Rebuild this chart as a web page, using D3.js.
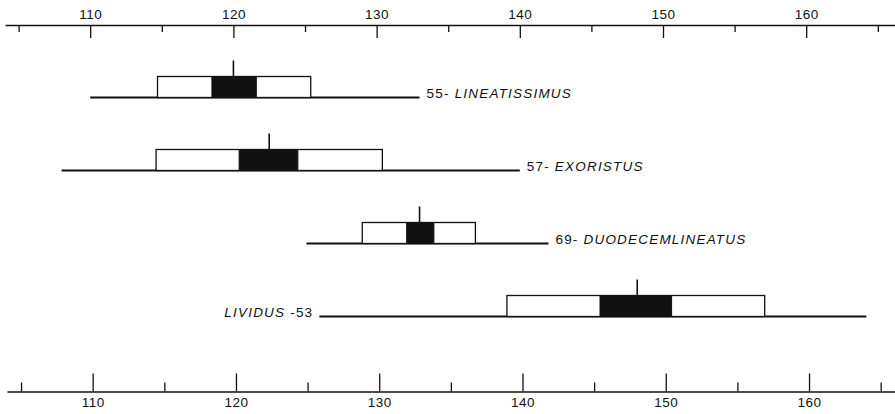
<!DOCTYPE html>
<html>
<head>
<meta charset="utf-8">
<script src="https://cdn.jsdelivr.net/npm/d3@7"></script>
<style>
  html, body { margin: 0; padding: 0; background: #fff; }
  svg { display: block; }
  text { font-family: "Liberation Sans", Arial, sans-serif; fill: #111; }
</style>
</head>
<body>
<svg id="chart" width="895" height="414"></svg>
<script>
// ---- data ----
const categories  = ["LINEATISSIMUS", "EXORISTUS", "DUODECEMLINEATUS", "LIVIDUS"];
const sampleSizes = [55, 57, 69, 53];
const rangeMin    = [110.0, 108.0, 125.1, 126.0];
const rangeMax    = [133.0, 140.0, 142.0, 164.2];
const sdLow       = [114.7, 114.6, 129.0, 139.1];
const sdHigh      = [125.4, 130.4, 136.9, 157.1];
const seLow       = [118.5, 120.4, 132.1, 145.6];
const seHigh      = [121.6, 124.5, 134.0, 150.6];
const means       = [120.0, 122.5, 133.0, 148.2];
const majorTicks  = [110, 120, 130, 140, 150, 160];
const minorTicks  = [105, 115, 125, 135, 145, 155, 165];

const rows = categories.map((c, i) => ({
  name: c, n: sampleSizes[i], min: rangeMin[i], max: rangeMax[i],
  sdLo: sdLow[i], sdHi: sdHigh[i], seLo: seLow[i], seHi: seHigh[i], mean: means[i],
  left: c === "LIVIDUS"
}));

const svg = d3.select("#chart");
const ink = "#111";
const labelFont = "'DejaVu Sans', Verdana, sans-serif";

const xTop = d3.scaleLinear().domain([104.05, 166.2]).range([5, 895]);
const xBot = d3.scaleLinear().domain([104.02, 166.0]).range([7, 895]);
const y = d3.scalePoint().domain(categories).range([97.5, 316.5]);

const topY = 25, botY = 391.5;
const boxH = 21, meanExt = 16;

function styleAxis(g) {
  g.selectAll("path.domain").attr("stroke", ink).attr("stroke-width", 1.6);
  g.selectAll(".tick line").attr("stroke", ink).attr("stroke-width", 1.3);
  g.selectAll(".tick text").attr("fill", ink).attr("font-size", 13.5)
    .attr("font-family", "'Liberation Sans', Arial, sans-serif").attr("letter-spacing", 0.5);
}

// top axis: ticks hanging down, labels above
svg.append("g").attr("transform", `translate(0,${topY})`)
  .call(d3.axisTop(xTop).tickValues(minorTicks).tickSizeInner(-7).tickSizeOuter(0).tickFormat(""))
  .call(styleAxis);
svg.append("g").attr("transform", `translate(0,${topY})`)
  .call(d3.axisTop(xTop).tickValues(majorTicks).tickSizeInner(-13).tickSizeOuter(0).tickPadding(6).tickFormat(d3.format("d")))
  .call(g => g.select("path.domain").remove())
  .call(styleAxis);

// bottom axis: ticks standing up, labels below
svg.append("g").attr("transform", `translate(0,${botY})`)
  .call(d3.axisBottom(xBot).tickValues(minorTicks).tickSizeInner(-9).tickSizeOuter(0).tickFormat(""))
  .call(styleAxis);
svg.append("g").attr("transform", `translate(0,${botY})`)
  .call(d3.axisBottom(xBot).tickValues(majorTicks).tickSizeInner(-18).tickSizeOuter(0).tickPadding(6).tickFormat(d3.format("d")))
  .call(g => g.select("path.domain").remove())
  .call(styleAxis);

const x = xTop;
const g = svg.append("g");
const row = g.selectAll("g.row").data(rows).join("g").attr("class", "row");

// range line
row.append("line")
  .attr("x1", d => x(d.min)).attr("x2", d => x(d.max))
  .attr("y1", d => y(d.name)).attr("y2", d => y(d.name))
  .attr("stroke", ink).attr("stroke-width", 1.8);

// standard deviation box (white)
row.append("rect")
  .attr("x", d => x(d.sdLo)).attr("width", d => x(d.sdHi) - x(d.sdLo))
  .attr("y", d => y(d.name) - boxH).attr("height", boxH)
  .attr("fill", "#fff").attr("stroke", ink).attr("stroke-width", 1.3);

// standard error box (black)
row.append("rect")
  .attr("x", d => x(d.seLo)).attr("width", d => x(d.seHi) - x(d.seLo))
  .attr("y", d => y(d.name) - boxH).attr("height", boxH)
  .attr("fill", ink).attr("stroke", ink).attr("stroke-width", 1);

// mean line
row.append("line")
  .attr("x1", d => x(d.mean)).attr("x2", d => x(d.mean))
  .attr("y1", d => y(d.name) - boxH - meanExt).attr("y2", d => y(d.name) - boxH)
  .attr("stroke", ink).attr("stroke-width", 1.6);

// labels
row.each(function(d) {
  const sel = d3.select(this);
  if (!d.left) {
    const t = sel.append("text")
      .attr("x", x(d.max) + 7).attr("y", y(d.name) + 0.5)
      .attr("font-family", labelFont).attr("font-size", 13.5)
      .attr("letter-spacing", 1.2).attr("text-anchor", "start");
    t.append("tspan").text(d.n + "- ");
    t.append("tspan").attr("font-style", "italic").text(d.name);
  } else {
    const t = sel.append("text")
      .attr("x", x(d.min) - 6).attr("y", y(d.name) + 0.5)
      .attr("font-family", labelFont).attr("font-size", 13.5)
      .attr("letter-spacing", 1.2).attr("text-anchor", "end");
    t.append("tspan").attr("font-style", "italic").text(d.name);
    t.append("tspan").text(" -" + d.n);
  }
});
</script>
</body>
</html>
